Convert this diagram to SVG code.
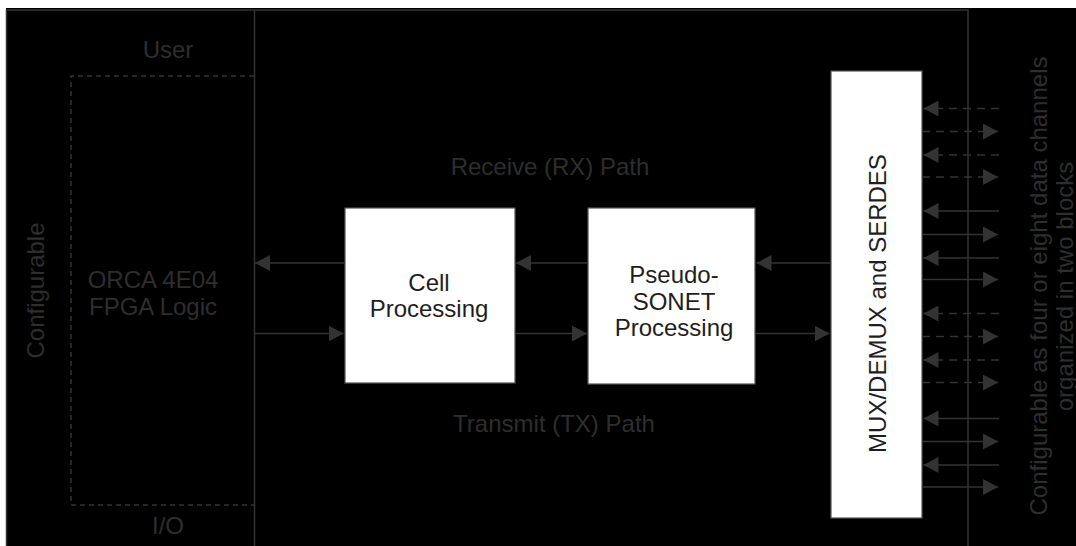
<svg xmlns="http://www.w3.org/2000/svg" width="1076" height="546" viewBox="0 0 1076 546">
<style>
.lbl{font-family:"Liberation Sans",Arial,sans-serif;font-size:24px;fill:#2e2e2e;text-anchor:middle}
.blk{font-family:"Liberation Sans",Arial,sans-serif;font-size:24px;fill:#1e1e1e;text-anchor:middle}
.box{fill:#ffffff;stroke:#555;stroke-width:1.2}
.frame{fill:none;stroke:#333;stroke-width:1.5}
.dash{fill:none;stroke:#333;stroke-width:1.5;stroke-dasharray:5 4}
.c{fill:none;stroke:#333;stroke-width:1.5}
.cd{fill:none;stroke:#333;stroke-width:1.5;stroke-dasharray:8 6}
</style>
<defs>
<marker id="ah" viewBox="0 0 15 16" refX="15" refY="8" markerWidth="15" markerHeight="16" markerUnits="userSpaceOnUse" orient="auto">
<path d="M0,0 L15,8 L0,16 z" fill="#333"/>
</marker>
</defs>
<rect x="0" y="0" width="1076" height="546" fill="#ffffff"/>
<rect x="6" y="8" width="1070" height="538" fill="#000000"/>
<path class="frame" d="M6.5,546 V10 H968 V546"/>
<path class="frame" d="M254.5,10 V546"/>

<g id="fpga-region">
<path class="dash" d="M254,76 H71 V505 H254"/>
<text class="lbl" x="168" y="58">User</text>
<text class="lbl" x="168" y="534">I/O</text>
<text class="lbl" x="153" y="288">ORCA 4E04</text>
<text class="lbl" x="153" y="315">FPGA Logic</text>
<text class="lbl" transform="translate(43.5,290.5) rotate(-90)">Configurable</text>
</g>

<g id="path-labels">
<text class="lbl" x="550" y="175">Receive (RX) Path</text>
<text class="lbl" x="554" y="432">Transmit (TX) Path</text>
</g>

<g id="cell-processing">
<rect class="box" x="345" y="208" width="170" height="175"/>
<text class="blk" x="429" y="290.5">Cell</text>
<text class="blk" x="429" y="316.5">Processing</text>
</g>

<g id="pseudo-sonet">
<rect class="box" x="588" y="208" width="167" height="176"/>
<text class="blk" x="674" y="283">Pseudo-</text>
<text class="blk" x="674" y="309.5">SONET</text>
<text class="blk" x="674" y="336">Processing</text>
</g>

<g id="mux-serdes">
<rect class="box" x="831" y="71" width="91" height="447"/>
<text class="blk" transform="translate(885.5,303.5) rotate(-90)">MUX/DEMUX and SERDES</text>
</g>

<g id="channel-label">
<text class="lbl" transform="translate(1046.5,286) rotate(-90)">Configurable as four or eight data channels</text>
<text class="lbl" transform="translate(1073,286.5) rotate(-90)">organized in two blocks</text>
</g>

<g id="connectors">
<line class="c" x1="831" y1="263" x2="756.5" y2="263" marker-end="url(#ah)"/>
<line class="c" x1="588" y1="263" x2="516" y2="263" marker-end="url(#ah)"/>
<line class="c" x1="345" y1="263" x2="255" y2="263" marker-end="url(#ah)"/>
<line class="c" x1="255" y1="333.5" x2="343.5" y2="333.5" marker-end="url(#ah)"/>
<line class="c" x1="515" y1="333.5" x2="587" y2="333.5" marker-end="url(#ah)"/>
<line class="c" x1="755" y1="333.5" x2="829.5" y2="333.5" marker-end="url(#ah)"/>

<line class="cd" x1="999" y1="108.5" x2="923.5" y2="108.5" marker-end="url(#ah)"/>
<line class="cd" x1="922" y1="131.5" x2="998" y2="131.5" marker-end="url(#ah)"/>
<line class="cd" x1="999" y1="155" x2="923.5" y2="155" marker-end="url(#ah)"/>
<line class="cd" x1="922" y1="177" x2="998" y2="177" marker-end="url(#ah)"/>

<line class="c" x1="999" y1="211" x2="923.5" y2="211" marker-end="url(#ah)"/>
<line class="c" x1="922" y1="234.5" x2="998" y2="234.5" marker-end="url(#ah)"/>
<line class="c" x1="999" y1="258" x2="923.5" y2="258" marker-end="url(#ah)"/>
<line class="c" x1="922" y1="279.5" x2="998" y2="279.5" marker-end="url(#ah)"/>

<line class="cd" x1="999" y1="313.5" x2="923.5" y2="313.5" marker-end="url(#ah)"/>
<line class="cd" x1="922" y1="336.5" x2="998" y2="336.5" marker-end="url(#ah)"/>
<line class="cd" x1="999" y1="360" x2="923.5" y2="360" marker-end="url(#ah)"/>
<line class="cd" x1="922" y1="382.5" x2="998" y2="382.5" marker-end="url(#ah)"/>

<line class="c" x1="999" y1="418.5" x2="923.5" y2="418.5" marker-end="url(#ah)"/>
<line class="c" x1="922" y1="441.5" x2="998" y2="441.5" marker-end="url(#ah)"/>
<line class="c" x1="999" y1="465" x2="923.5" y2="465" marker-end="url(#ah)"/>
<line class="c" x1="922" y1="487" x2="998" y2="487" marker-end="url(#ah)"/>
</g>
</svg>
